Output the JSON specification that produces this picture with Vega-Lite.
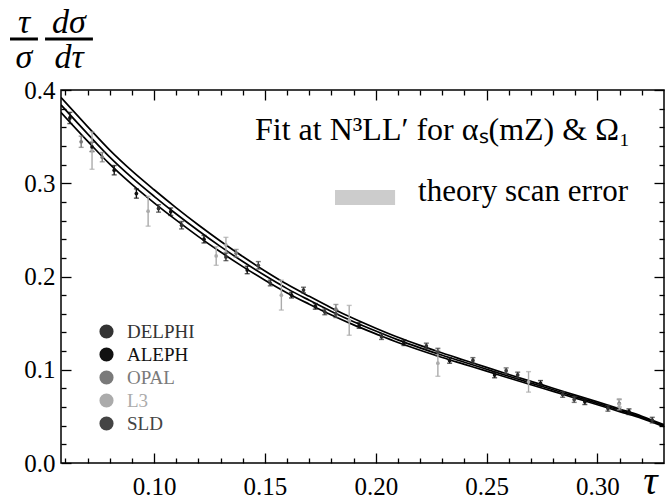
{
  "$schema": "https://vega.github.io/schema/vega-lite/v6.json",
  "width": 603,
  "height": 373,
  "autosize": {"type": "none"},
  "padding": {"left": 61, "top": 90, "right": 1, "bottom": 38},
  "background": "white",
  "config": {
    "view": {"stroke": "black", "strokeWidth": 1.5},
    "axis": {"domain": false, "grid": false, "tickColor": "black", "tickWidth": 1.3, "labelColor": "black", "labelFont": "Liberation Serif", "labelFontSize": 25, "titleColor": "black"},
    "text": {"font": "Liberation Serif", "color": "black"}
  },
  "datasets": {
    "theory": [
      {"x": 0.058, "lo": 0.376, "mid": 0.384, "hi": 0.392},
      {"x": 0.07, "lo": 0.3452, "mid": 0.353, "hi": 0.3608},
      {"x": 0.08, "lo": 0.3205, "mid": 0.328, "hi": 0.3355},
      {"x": 0.09, "lo": 0.2988, "mid": 0.306, "hi": 0.3132},
      {"x": 0.10, "lo": 0.279, "mid": 0.286, "hi": 0.293},
      {"x": 0.11, "lo": 0.2604, "mid": 0.267, "hi": 0.2736},
      {"x": 0.12, "lo": 0.2428, "mid": 0.249, "hi": 0.2552},
      {"x": 0.13, "lo": 0.2262, "mid": 0.232, "hi": 0.2378},
      {"x": 0.14, "lo": 0.2106, "mid": 0.216, "hi": 0.2214},
      {"x": 0.15, "lo": 0.196, "mid": 0.201, "hi": 0.206},
      {"x": 0.16, "lo": 0.1824, "mid": 0.187, "hi": 0.1916},
      {"x": 0.17, "lo": 0.1703, "mid": 0.1745, "hi": 0.1787},
      {"x": 0.18, "lo": 0.1587, "mid": 0.1625, "hi": 0.1663},
      {"x": 0.19, "lo": 0.1481, "mid": 0.1515, "hi": 0.1549},
      {"x": 0.20, "lo": 0.1385, "mid": 0.1415, "hi": 0.1445},
      {"x": 0.21, "lo": 0.1292, "mid": 0.132, "hi": 0.1348},
      {"x": 0.22, "lo": 0.1209, "mid": 0.1235, "hi": 0.1261},
      {"x": 0.23, "lo": 0.1131, "mid": 0.1155, "hi": 0.1179},
      {"x": 0.24, "lo": 0.1058, "mid": 0.108, "hi": 0.1102},
      {"x": 0.25, "lo": 0.0985, "mid": 0.1005, "hi": 0.1025},
      {"x": 0.26, "lo": 0.0911, "mid": 0.093, "hi": 0.0949},
      {"x": 0.27, "lo": 0.0839, "mid": 0.0857, "hi": 0.0875},
      {"x": 0.28, "lo": 0.0768, "mid": 0.0785, "hi": 0.0802},
      {"x": 0.29, "lo": 0.0696, "mid": 0.0712, "hi": 0.0728},
      {"x": 0.30, "lo": 0.0625, "mid": 0.064, "hi": 0.0655},
      {"x": 0.31, "lo": 0.0551, "mid": 0.0565, "hi": 0.0579},
      {"x": 0.32, "lo": 0.0478, "mid": 0.049, "hi": 0.0502},
      {"x": 0.33, "lo": 0.039, "mid": 0.040, "hi": 0.041}
    ],
    "points": [
      {"exp": "ALEPH", "x": 0.062, "y": 0.370, "e": 0.006},
      {"exp": "ALEPH", "x": 0.072, "y": 0.339, "e": 0.005},
      {"exp": "ALEPH", "x": 0.082, "y": 0.314, "e": 0.005},
      {"exp": "ALEPH", "x": 0.092, "y": 0.289, "e": 0.005},
      {"exp": "ALEPH", "x": 0.1075, "y": 0.2695, "e": 0.004},
      {"exp": "ALEPH", "x": 0.1225, "y": 0.240, "e": 0.004},
      {"exp": "ALEPH", "x": 0.142, "y": 0.207, "e": 0.004},
      {"exp": "ALEPH", "x": 0.162, "y": 0.180, "e": 0.003},
      {"exp": "ALEPH", "x": 0.1727, "y": 0.168, "e": 0.003},
      {"exp": "ALEPH", "x": 0.1925, "y": 0.1475, "e": 0.003},
      {"exp": "ALEPH", "x": 0.2127, "y": 0.129, "e": 0.003},
      {"exp": "ALEPH", "x": 0.2333, "y": 0.110, "e": 0.003},
      {"exp": "ALEPH", "x": 0.2536, "y": 0.0944, "e": 0.003},
      {"exp": "ALEPH", "x": 0.2743, "y": 0.0854, "e": 0.003},
      {"exp": "ALEPH", "x": 0.2943, "y": 0.0657, "e": 0.003},
      {"exp": "ALEPH", "x": 0.3142, "y": 0.055, "e": 0.003},
      {"exp": "DELPHI", "x": 0.102, "y": 0.273, "e": 0.004},
      {"exp": "DELPHI", "x": 0.1124, "y": 0.255, "e": 0.004},
      {"exp": "DELPHI", "x": 0.1324, "y": 0.221, "e": 0.004},
      {"exp": "DELPHI", "x": 0.1524, "y": 0.193, "e": 0.003},
      {"exp": "DELPHI", "x": 0.1674, "y": 0.1855, "e": 0.003},
      {"exp": "DELPHI", "x": 0.177, "y": 0.162, "e": 0.003},
      {"exp": "DELPHI", "x": 0.2026, "y": 0.1355, "e": 0.003},
      {"exp": "DELPHI", "x": 0.2228, "y": 0.1255, "e": 0.003},
      {"exp": "DELPHI", "x": 0.2438, "y": 0.110, "e": 0.003},
      {"exp": "DELPHI", "x": 0.264, "y": 0.0944, "e": 0.003},
      {"exp": "DELPHI", "x": 0.2843, "y": 0.0735, "e": 0.003},
      {"exp": "DELPHI", "x": 0.3047, "y": 0.0586, "e": 0.003},
      {"exp": "DELPHI", "x": 0.3247, "y": 0.046, "e": 0.003},
      {"exp": "SLD", "x": 0.147, "y": 0.212, "e": 0.004},
      {"exp": "SLD", "x": 0.182, "y": 0.160, "e": 0.004},
      {"exp": "SLD", "x": 0.228, "y": 0.119, "e": 0.004},
      {"exp": "SLD", "x": 0.2588, "y": 0.099, "e": 0.003},
      {"exp": "SLD", "x": 0.2895, "y": 0.068, "e": 0.003},
      {"exp": "OPAL", "x": 0.0671, "y": 0.3445, "e": 0.006},
      {"exp": "OPAL", "x": 0.0766, "y": 0.328, "e": 0.005},
      {"exp": "OPAL", "x": 0.137, "y": 0.225, "e": 0.004},
      {"exp": "OPAL", "x": 0.182, "y": 0.165, "e": 0.005},
      {"exp": "OPAL", "x": 0.3098, "y": 0.064, "e": 0.004},
      {"exp": "L3", "x": 0.072, "y": 0.335, "e": 0.02},
      {"exp": "L3", "x": 0.0973, "y": 0.270, "e": 0.016},
      {"exp": "L3", "x": 0.128, "y": 0.222, "e": 0.01},
      {"exp": "L3", "x": 0.1324, "y": 0.234, "e": 0.008},
      {"exp": "L3", "x": 0.1574, "y": 0.180, "e": 0.016},
      {"exp": "L3", "x": 0.188, "y": 0.153, "e": 0.016},
      {"exp": "L3", "x": 0.228, "y": 0.107, "e": 0.014},
      {"exp": "L3", "x": 0.2689, "y": 0.087, "e": 0.011},
      {"exp": "L3", "x": 0.3098, "y": 0.063, "e": 0.006}
    ],
    "one": [{}]
  },
  "resolve": {"axis": {"x": "independent", "y": "independent"}},
  "layer": [
    {
      "data": {"name": "theory"},
      "mark": {"type": "line", "color": "black", "strokeWidth": 1.7, "interpolate": "monotone", "clip": true},
      "encoding": {
        "x": {"field": "x", "type": "quantitative", "scale": {"domain": [0.058, 0.33], "nice": false, "zero": false},
              "axis": {"orient": "top", "values": [0.1, 0.15, 0.2, 0.25, 0.3], "labels": false, "tickSize": -10, "title": null}},
        "y": {"field": "hi", "type": "quantitative", "scale": {"domain": [0, 0.4], "nice": false, "zero": false},
              "axis": {"orient": "right", "values": [0, 0.1, 0.2, 0.3, 0.4], "labels": false, "tickSize": -10, "title": null}}
      }
    },
    {
      "data": {"name": "theory"},
      "mark": {"type": "line", "color": "black", "strokeWidth": 1.7, "interpolate": "monotone", "clip": true},
      "encoding": {
        "x": {"field": "x", "type": "quantitative", "scale": {"domain": [0.058, 0.33], "nice": false, "zero": false},
              "axis": {"orient": "bottom", "values": [0.1, 0.15, 0.2, 0.25, 0.3], "format": ".2f", "tickSize": -10, "labelPadding": 21,
                       "title": "τ", "titleFont": "Liberation Serif", "titleFontStyle": "italic", "titleFontWeight": "normal", "titleFontSize": 40,
                       "titleAlign": "center", "titleBaseline": "alphabetic", "titleX": 589, "titleY": 30}},
        "y": {"field": "mid", "type": "quantitative", "scale": {"domain": [0, 0.4], "nice": false, "zero": false},
              "axis": {"orient": "left", "values": [0, 0.1, 0.2, 0.3, 0.4], "format": ".1f", "tickSize": -10, "labelPadding": 16, "title": null}}
      }
    },
    {
      "data": {"name": "theory"},
      "mark": {"type": "line", "color": "black", "strokeWidth": 1.7, "interpolate": "monotone", "clip": true},
      "encoding": {
        "x": {"field": "x", "type": "quantitative", "scale": {"domain": [0.058, 0.33], "nice": false, "zero": false},
              "axis": {"orient": "bottom", "values": [0.06, 0.07, 0.08, 0.09, 0.11, 0.12, 0.13, 0.14, 0.16, 0.17, 0.18, 0.19, 0.21, 0.22, 0.23, 0.24, 0.26, 0.27, 0.28, 0.29, 0.31, 0.32], "labels": false, "tickSize": -5, "title": null}},
        "y": {"field": "lo", "type": "quantitative", "scale": {"domain": [0, 0.4], "nice": false, "zero": false},
              "axis": {"orient": "left", "values": [0.02, 0.04, 0.06, 0.08, 0.12, 0.14, 0.16, 0.18, 0.22, 0.24, 0.26, 0.28, 0.32, 0.34, 0.36, 0.38], "labels": false, "tickSize": -5, "title": null}}
      }
    },
    {
      "data": {"name": "points"},
      "mark": {"type": "errorbar", "ticks": {"size": 5, "thickness": 1.4}, "rule": {"strokeWidth": 1.4}},
      "encoding": {
        "x": {"field": "x", "type": "quantitative", "scale": {"domain": [0.058, 0.33], "nice": false, "zero": false}, "axis": null},
        "y": {"field": "y", "type": "quantitative", "scale": {"domain": [0, 0.4], "nice": false, "zero": false}, "axis": null},
        "yError": {"field": "e"},
        "color": {"field": "exp", "type": "nominal",
                  "scale": {"domain": ["DELPHI", "ALEPH", "OPAL", "L3", "SLD"], "range": ["#333333", "#111111", "#7a7a7a", "#ababab", "#444444"]},
                  "legend": {"orient": "none", "legendX": 36, "legendY": 232, "title": null, "symbolType": "circle", "symbolSize": 200,
                             "symbolStrokeWidth": 0, "symbolOpacity": 1, "labelFont": "Liberation Serif", "labelFontSize": 19, "rowPadding": 3, "labelOffset": 11,
                             "labelColor": {"expr": "scale('color', datum.value)"}}}
      }
    },
    {
      "data": {"name": "points"},
      "mark": {"type": "point", "filled": true, "size": 14, "opacity": 1},
      "encoding": {
        "x": {"field": "x", "type": "quantitative", "scale": {"domain": [0.058, 0.33], "nice": false, "zero": false},
              "axis": {"orient": "top", "values": [0.06, 0.07, 0.08, 0.09, 0.11, 0.12, 0.13, 0.14, 0.16, 0.17, 0.18, 0.19, 0.21, 0.22, 0.23, 0.24, 0.26, 0.27, 0.28, 0.29, 0.31, 0.32], "labels": false, "tickSize": -5, "title": null}},
        "y": {"field": "y", "type": "quantitative", "scale": {"domain": [0, 0.4], "nice": false, "zero": false},
              "axis": {"orient": "right", "values": [0.02, 0.04, 0.06, 0.08, 0.12, 0.14, 0.16, 0.18, 0.22, 0.24, 0.26, 0.28, 0.32, 0.34, 0.36, 0.38], "labels": false, "tickSize": -5, "title": null}},
        "color": {"field": "exp", "type": "nominal",
                  "scale": {"domain": ["DELPHI", "ALEPH", "OPAL", "L3", "SLD"], "range": ["#333333", "#111111", "#7a7a7a", "#ababab", "#444444"]},
                  "legend": {"orient": "none", "legendX": 36, "legendY": 232, "title": null, "symbolType": "circle", "symbolSize": 200,
                             "symbolStrokeWidth": 0, "symbolOpacity": 1, "labelFont": "Liberation Serif", "labelFontSize": 19, "rowPadding": 3, "labelOffset": 11,
                             "labelColor": {"expr": "scale('color', datum.value)"}}}
      }
    },
    {
      "data": {"name": "one"},
      "mark": {"type": "rect", "color": "#cccccc"},
      "encoding": {
        "x": {"datum": 0.1816, "type": "quantitative", "axis": null},
        "x2": {"datum": 0.2087},
        "y": {"datum": 0.2928, "type": "quantitative", "axis": null},
        "y2": {"datum": 0.2767}
      }
    },
    {
      "data": {"name": "one"},
      "mark": {"type": "text", "align": "right", "baseline": "alphabetic", "fontSize": 32},
      "encoding": {
        "x": {"datum": 0.3147, "type": "quantitative", "axis": null},
        "y": {"datum": 0.3464, "type": "quantitative", "axis": null},
        "text": {"value": "Fit at N³LL′ for αₛ(mZ) & Ω₁"}
      }
    },
    {
      "data": {"name": "one"},
      "mark": {"type": "text", "align": "right", "baseline": "alphabetic", "fontSize": 31},
      "encoding": {
        "x": {"datum": 0.3138, "type": "quantitative", "axis": null},
        "y": {"datum": 0.281, "type": "quantitative", "axis": null},
        "text": {"value": "theory scan error"}
      }
    },
    {
      "data": {"name": "one"},
      "mark": {"type": "text", "align": "center", "baseline": "alphabetic", "fontSize": 34, "fontStyle": "italic"},
      "encoding": {
        "x": {"datum": 0.0413, "type": "quantitative", "axis": null},
        "y": {"datum": 0.4615, "type": "quantitative", "axis": null},
        "text": {"value": "τ"}
      }
    },
    {
      "data": {"name": "one"},
      "mark": {"type": "text", "align": "center", "baseline": "alphabetic", "fontSize": 34, "fontStyle": "italic"},
      "encoding": {
        "x": {"datum": 0.0616, "type": "quantitative", "axis": null},
        "y": {"datum": 0.4615, "type": "quantitative", "axis": null},
        "text": {"value": "dσ"}
      }
    },
    {
      "data": {"name": "one"},
      "mark": {"type": "text", "align": "center", "baseline": "alphabetic", "fontSize": 34, "fontStyle": "italic"},
      "encoding": {
        "x": {"datum": 0.0413, "type": "quantitative", "axis": null},
        "y": {"datum": 0.4235, "type": "quantitative", "axis": null},
        "text": {"value": "σ"}
      }
    },
    {
      "data": {"name": "one"},
      "mark": {"type": "text", "align": "center", "baseline": "alphabetic", "fontSize": 34, "fontStyle": "italic"},
      "encoding": {
        "x": {"datum": 0.0616, "type": "quantitative", "axis": null},
        "y": {"datum": 0.4235, "type": "quantitative", "axis": null},
        "text": {"value": "dτ"}
      }
    },
    {
      "data": {"name": "one"},
      "mark": {"type": "rule", "color": "black", "strokeWidth": 3},
      "encoding": {
        "x": {"datum": 0.0350, "type": "quantitative", "axis": null},
        "x2": {"datum": 0.0476},
        "y": {"datum": 0.4547, "type": "quantitative", "axis": null}
      }
    },
    {
      "data": {"name": "one"},
      "mark": {"type": "rule", "color": "black", "strokeWidth": 3},
      "encoding": {
        "x": {"datum": 0.0508, "type": "quantitative", "axis": null},
        "x2": {"datum": 0.0724},
        "y": {"datum": 0.4547, "type": "quantitative", "axis": null}
      }
    }
  ]
}
